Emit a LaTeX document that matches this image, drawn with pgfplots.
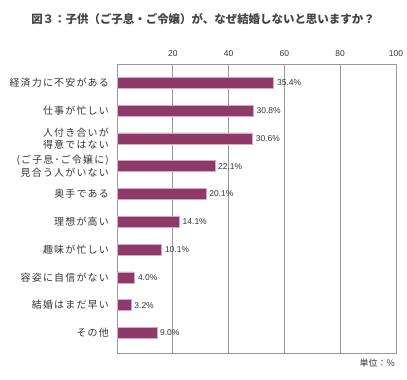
\documentclass[border=0pt]{standalone}
\usepackage{fontspec}
\setmainfont{Liberation Sans}
\newfontfamily\jp{Noto Sans CJK JP}
\newfontfamily\jpls[LetterSpace=12]{Noto Sans CJK JP}
\usepackage{pgfplots}
\pgfplotsset{compat=1.18}
\definecolor{barc}{HTML}{8E3A68}
\definecolor{bare}{HTML}{D9A6C6}
\definecolor{gridc}{HTML}{999999}
\definecolor{txt}{HTML}{333333}
\definecolor{ttl}{HTML}{444444}
\begin{document}
\begin{tikzpicture}
\useasboundingbox (0,0) rectangle (407bp,380bp);
\node[font=\jp\fontsize{11.5}{13}\selectfont\bfseries, text=ttl, anchor=center] at (203bp,361bp) {図３：子供（ご子息・ご令嬢）が、なぜ結婚しないと思いますか？};
\node[font=\jp\fontsize{9}{10}\selectfont, text=txt, anchor=east, inner sep=0pt] at (395bp,17bp) {単位：\%};
\begin{axis}[
  at={(117bp,316bp)}, anchor=north west,
  scale only axis, width=279bp, height=289bp,
  xbar, bar width=11bp,
  xmin=0, xmax=63,
  ymin=-0.68, ymax=9.72, y dir=reverse,
  xtick={12.6,25.2,37.8,50.4,63},
  xticklabels={20,40,60,80,100},
  xticklabel pos=upper,
  ytick={0,...,9},
  yticklabels={経済力に不安がある,仕事が忙しい,{人付き合いが\\得意ではない},{(ご子息･ご令嬢に)\\見合う人がいない},奥手である,理想が高い,趣味が忙しい,容姿に自信がない,結婚はまだ早い,その他},
  yticklabel style={font=\jpls\fontsize{10}{12.5}\selectfont, text=txt, align=right, inner sep=0pt, xshift=-8bp},
  xticklabel style={font=\fontsize{8.5}{10}\selectfont, text=txt, yshift=4bp},
  /pgf/number format/assume math mode=true,
  major tick length=0pt,
  xmajorgrids, grid style={gridc, line width=0.8pt},
  axis line style={gridc, line width=0.8pt},
  axis on top=false,
  nodes near coords={\pgfmathprintnumber[fixed,fixed zerofill,precision=1]{\pgfplotspointmeta}\%},
  nodes near coords style={font=\fontsize{8.5}{10}\selectfont, text=txt, anchor=west, inner sep=0pt, xshift=3bp},
  point meta=x,
]
\addplot[fill=barc, draw=bare, line width=0.6pt] coordinates {
(35.4,0) (30.8,1) (30.6,2) (22.1,3) (20.1,4) (14.1,5) (10.1,6) (4.0,7) (3.2,8) (9.0,9)
};
\end{axis}
\end{tikzpicture}
\end{document}
